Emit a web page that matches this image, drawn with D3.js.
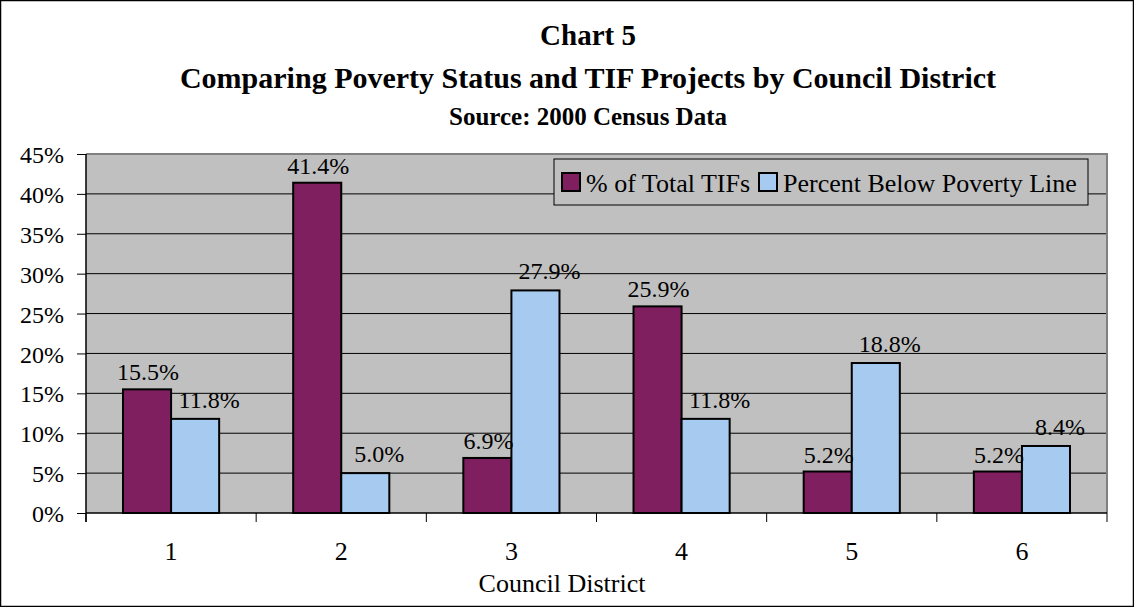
<!DOCTYPE html>
<html><head><meta charset="utf-8">
<script src="https://cdn.jsdelivr.net/npm/d3@7"></script>
<style>html,body{margin:0;padding:0;background:#fff;} svg{display:block;font-family:"Liberation Serif",serif;}</style>
</head><body><svg id="c" width="1134" height="607"></svg>
<script>
const districts = ["1","2","3","4","5","6"];
const seriesNames = ["% of Total TIFs","Percent Below Poverty Line"];
const tifShare = [15.5, 41.4, 6.9, 25.9, 5.2, 5.2];
const povertyRate = [11.8, 5.0, 27.9, 11.8, 18.8, 8.4];
const yTicks = [0,5,10,15,20,25,30,35,40,45];
const colors = ["#7F1F5F","#A6CAF0"];

const svg = d3.select("#c");
const W = 1134, H = 607;
const m = {l:86, r:27, t:154, b:94};
const pw = W - m.l - m.r, ph = H - m.t - m.b;

svg.append("rect").attr("x",0.5).attr("y",0.5).attr("width",W-1).attr("height",H-1)
  .attr("fill","#fff").attr("stroke","#000").attr("stroke-width",1.5);

// Titles
const tx = 588;
svg.append("text").attr("x",tx).attr("y",45).attr("text-anchor","middle")
  .attr("font-weight","bold").attr("font-size",29).text("Chart 5");
svg.append("text").attr("x",tx).attr("y",88).attr("text-anchor","middle")
  .attr("font-weight","bold").attr("font-size",30).text("Comparing Poverty Status and TIF Projects by Council District");
svg.append("text").attr("x",tx).attr("y",125).attr("text-anchor","middle")
  .attr("font-weight","bold").attr("font-size",25).text("Source: 2000 Census Data");

const x0 = d3.scaleBand().domain(districts).range([m.l, m.l+pw]).paddingInner(0).paddingOuter(0);
const x1 = d3.scaleBand().domain([0,1]).range([0, x0.bandwidth()]).paddingOuter(0.77).paddingInner(0);
const y = d3.scaleLinear().domain([0,45]).range([m.t+ph, m.t]);

// plot bg
svg.append("rect").attr("x",m.l).attr("y",m.t).attr("width",pw).attr("height",ph).attr("fill","#C0C0C0");
// grid
svg.append("g").selectAll("line").data(yTicks.slice(1,-1)).join("line")
  .attr("x1",m.l).attr("x2",m.l+pw).attr("y1",d=>y(d)).attr("y2",d=>y(d))
  .attr("stroke","#000").attr("stroke-width",1);
// plot border top/right
svg.append("path").attr("d",`M${m.l},${m.t}H${m.l+pw}V${m.t+ph}`).attr("fill","none").attr("stroke","#808080").attr("stroke-width",2);

// bars
const data = districts.map((d,i)=>({d, vals:[tifShare[i], povertyRate[i]]}));
const g = svg.append("g").selectAll("g").data(data).join("g").attr("transform",d=>`translate(${x0(d.d)},0)`);
g.selectAll("rect").data(d=>d.vals.map((v,k)=>({v,k}))).join("rect")
  .attr("x",d=>x1(d.k)).attr("width",x1.bandwidth())
  .attr("y",d=>y(d.v)).attr("height",d=>y(0)-y(d.v))
  .attr("fill",d=>colors[d.k]).attr("stroke","#000").attr("stroke-width",2);
g.selectAll("text").data(d=>d.vals.map((v,k)=>({v,k}))).join("text")
  .attr("x",d=>x1(d.k)+x1.bandwidth()/2+(d.k?14:1)).attr("y",d=>y(d.v)-(d.k?11:9))
  .attr("text-anchor","middle").attr("font-size",24).text(d=>d.v.toFixed(1)+"%");

// y axis
const ya = svg.append("g").attr("transform",`translate(${m.l},0)`)
  .call(d3.axisLeft(y).tickValues(yTicks).tickFormat(d=>d+"%").tickSize(9).tickPadding(13));
ya.select(".domain").attr("stroke","#000").attr("stroke-width",1.5).attr("d",`M0,${m.t}V${m.t+ph+9}`);
ya.selectAll(".tick line").attr("stroke","#000");
ya.selectAll("text").attr("font-size",24).attr("font-family","Liberation Serif").attr("fill","#000").attr("dy","0.36em");

// x axis
const xa = svg.append("g").attr("transform",`translate(0,${m.t+ph})`);
xa.append("line").attr("x1",m.l).attr("x2",m.l+pw).attr("stroke","#000").attr("stroke-width",1.5);
xa.selectAll("line.t").data(d3.range(districts.length+1)).join("line").attr("class","t")
  .attr("x1",i=>m.l+i*x0.bandwidth()).attr("x2",i=>m.l+i*x0.bandwidth()).attr("y1",0).attr("y2",9)
  .attr("stroke","#000");
xa.selectAll("text").data(districts).join("text")
  .attr("x",d=>x0(d)+x0.bandwidth()/2).attr("y",47).attr("text-anchor","middle").attr("font-size",26).text(d=>d);
svg.append("text").attr("x",562).attr("y",592).attr("text-anchor","middle").attr("font-size",26).text("Council District");

// legend
const lg = svg.append("g");
lg.append("rect").attr("x",554).attr("y",159).attr("width",534).attr("height",46)
  .attr("fill","#C0C0C0").attr("stroke","#000").attr("stroke-width",1);
const lx = [562, 759];
seriesNames.forEach((n,i)=>{
  lg.append("rect").attr("x",lx[i]).attr("y",173).attr("width",18).attr("height",18)
    .attr("fill",colors[i]).attr("stroke","#000").attr("stroke-width",2);
  lg.append("text").attr("x",lx[i]+24).attr("y",192).attr("font-size",26).text(n);
});
</script></body></html>
